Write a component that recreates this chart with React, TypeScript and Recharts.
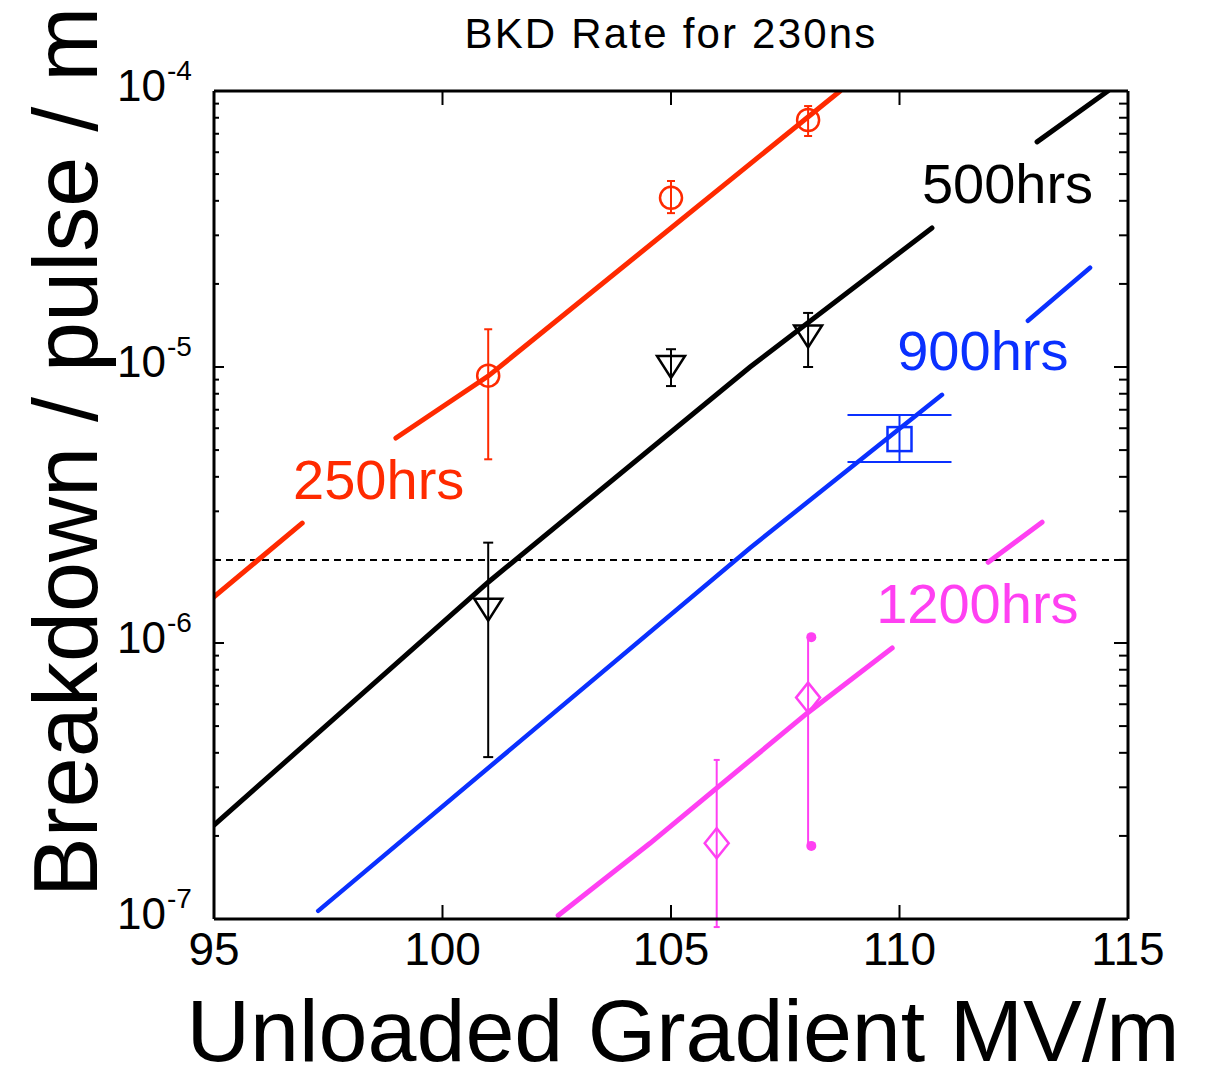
import React from 'react';
import {
  ComposedChart,
  Line,
  Scatter,
  XAxis,
  YAxis,
  ErrorBar,
  ReferenceLine,
  ReferenceDot,
} from 'recharts';

const FONT = '"Liberation Sans", Arial, Helvetica, sans-serif';

const RED = '#ff2a00';
const BLACK = '#000000';
const BLUE = '#0a30ff';
const MAGENTA = '#ff40f2';

// axes
const xTicks = [95, 100, 105, 110, 115];
const yDecades = [1e-7, 1e-6, 1e-5, 1e-4];
const yMinorSteps = [2, 3, 4, 5, 6, 7, 8, 9];
const threshold = 2e-6;

// fit lines, null = break where the label sits
const fit250X = [95, 96.93, 97.9, 98.98, 101.0, 108.7];
const fit250Y = [1.47e-6, 2.72e-6, null, 5.53e-6, 9.27e-6, 1.0e-4];

const fit500X = [95, 101.0, 106.73, 110.71, 111.9, 113.01, 114.56];
const fit500Y = [2.19e-7, 1.66e-6, 1.0e-5, 3.19e-5, null, 6.54e-5, 1.0e-4];

const fit900X = [97.28, 106.73, 110.93, 111.9, 112.81, 114.17];
const fit900Y = [1.07e-7, 2.21e-6, 7.93e-6, null, 1.47e-5, 2.29e-5];

const fit1200X = [102.53, 104.54, 107.98, 109.84, 110.9, 111.94, 113.12];
const fit1200Y = [1.03e-7, 1.88e-7, 5.57e-7, 9.59e-7, null, 1.96e-6, 2.74e-6];

// measured points with lower / upper error bounds
const pts250X = [101, 105, 108];
const pts250Y = [9.3e-6, 4.1e-5, 7.85e-5];
const pts250Lo = [4.63e-6, 3.61e-5, 6.87e-5];
const pts250Hi = [1.37e-5, 4.72e-5, 8.82e-5];

const pts500X = [101, 105, 108];
const pts500Y = [1.32e-6, 1.0e-5, 1.29e-5];
const pts500Lo = [3.86e-7, 8.53e-6, 1.0e-5];
const pts500Hi = [2.31e-6, 1.16e-5, 1.57e-5];

const pts900X = [110];
const pts900Y = [5.48e-6];
const pts900Lo = [4.53e-6];
const pts900Hi = [6.7e-6];

const pts1200aX = [106];
const pts1200aY = [1.88e-7];
const pts1200aLo = [9.35e-8];
const pts1200aHi = [3.77e-7];

const pts1200bX = [108];
const pts1200bY = [6.34e-7];
const pts1200bLo = [1.84e-7];
const pts1200bHi = [1.05e-6];
const caps1200bX = [108.07, 108.07];
const caps1200bY = [1.05e-6, 1.84e-7];

// curve labels (left end of baseline)
const labelText = ['250hrs', '500hrs', '900hrs', '1200hrs'];
const labelColor = [RED, BLACK, BLUE, MAGENTA];
const labelX = [96.73, 110.49, 109.95, 109.49];
const labelY = [3.33e-6, 3.93e-5, 9.75e-6, 1.18e-6];

const toLine = (xs: number[], ys: (number | null)[]) => xs.map((x, i) => ({ x, y: ys[i] }));
const toPoints = (xs: number[], ys: number[], lo: number[], hi: number[]) =>
  xs.map((x, i) => ({ x, y: ys[i], err: [ys[i] - lo[i], hi[i] - ys[i]] }));

const yTicks: number[] = [];
yDecades.forEach((d, i) => {
  yTicks.push(d);
  if (i < yDecades.length - 1) yMinorSteps.forEach((m) => yTicks.push(d * m));
});

const isDecade = (v: number) => {
  const l = Math.log10(v);
  return Math.abs(l - Math.round(l)) < 1e-6;
};

const BottomTick = (props: any) => {
  const { x, y, payload } = props;
  return (
    <g>
      <line x1={x} x2={x} y1={y} y2={y - 14} stroke="#000" strokeWidth={2} />
      <text x={x} y={y + 46} textAnchor="middle" fontSize={46} fontFamily={FONT} fill="#000">
        {payload.value}
      </text>
    </g>
  );
};

const TopTick = (props: any) => {
  const { x, y } = props;
  return <line x1={x} x2={x} y1={y} y2={y + 14} stroke="#000" strokeWidth={2} />;
};

const LeftTick = (props: any) => {
  const { x, y, payload } = props;
  const major = isDecade(payload.value);
  if (!major) return <line x1={x} x2={x + 5} y1={y} y2={y} stroke="#000" strokeWidth={2} />;
  const exp = Math.round(Math.log10(payload.value));
  return (
    <g>
      <line x1={x} x2={x + 10} y1={y} y2={y} stroke="#000" strokeWidth={2} />
      <text x={x - 48} y={y + 10} textAnchor="end" fontSize={44} fontFamily={FONT} fill="#000">
        10
      </text>
      <text x={x - 47} y={y - 11} textAnchor="start" fontSize={28} fontFamily={FONT} fill="#000">
        {exp}
      </text>
    </g>
  );
};

const RightTick = (props: any) => {
  const { x, y, payload } = props;
  const len = isDecade(payload.value) ? 14 : 9;
  return <line x1={x} x2={x - len} y1={y} y2={y} stroke="#000" strokeWidth={2} />;
};

const circleShape = (p: any) => (
  <circle cx={p.cx} cy={p.cy} r={11} fill="none" stroke={RED} strokeWidth={2.5} />
);
const triangleShape = (p: any) => (
  <polygon
    points={`${p.cx - 14},${p.cy - 11} ${p.cx + 14},${p.cy - 11} ${p.cx},${p.cy + 11}`}
    fill="none"
    stroke={BLACK}
    strokeWidth={2.5}
  />
);
const squareShape = (p: any) => (
  <rect x={p.cx - 12} y={p.cy - 12} width={24} height={24} fill="none" stroke={BLUE} strokeWidth={2.5} />
);
const diamondShape = (p: any) => (
  <polygon
    points={`${p.cx},${p.cy - 15} ${p.cx + 12},${p.cy} ${p.cx},${p.cy + 15} ${p.cx - 12},${p.cy}`}
    fill="none"
    stroke={MAGENTA}
    strokeWidth={2.5}
  />
);
const capDotShape = (p: any) => <circle cx={p.cx} cy={p.cy} r={5} fill={MAGENTA} />;

const curveLabel = (text: string, color: string) => (props: any) => {
  const vb = props.viewBox || {};
  return (
    <text x={vb.x} y={vb.y} fill={color} fontSize={56} fontFamily={FONT}>
      {text}
    </text>
  );
};

const fits = [
  { data: toLine(fit250X, fit250Y), color: RED, width: 5 },
  { data: toLine(fit500X, fit500Y), color: BLACK, width: 5 },
  { data: toLine(fit900X, fit900Y), color: BLUE, width: 4.5 },
  { data: toLine(fit1200X, fit1200Y), color: MAGENTA, width: 5 },
];

export default function App() {
  return (
    <div style={{ position: 'absolute', left: 0, top: 0, width: 1206, height: 1080, background: '#fff' }}>
      <ComposedChart width={1206} height={1080} margin={{ top: 0, right: 0, bottom: 0, left: 0 }}>
        <XAxis
          xAxisId={0}
          dataKey="x"
          type="number"
          domain={[95, 115]}
          ticks={xTicks}
          interval={0}
          allowDataOverflow
          height={161}
          tickSize={0}
          tickMargin={0}
          tickLine={false}
          axisLine={{ stroke: '#000', strokeWidth: 3 }}
          tick={<BottomTick />}
        />
        <XAxis
          xAxisId="top"
          orientation="top"
          dataKey="x"
          type="number"
          domain={[95, 115]}
          ticks={xTicks}
          interval={0}
          allowDataOverflow
          height={91}
          tickSize={0}
          tickMargin={0}
          tickLine={false}
          axisLine={{ stroke: '#000', strokeWidth: 3 }}
          tick={<TopTick />}
        />
        <YAxis
          yAxisId={0}
          dataKey="y"
          type="number"
          scale="log"
          domain={[1e-7, 1e-4]}
          ticks={yTicks}
          interval={0}
          allowDataOverflow
          width={214}
          tickSize={0}
          tickMargin={0}
          tickLine={false}
          axisLine={{ stroke: '#000', strokeWidth: 3 }}
          tick={<LeftTick />}
        />
        <YAxis
          yAxisId="right"
          orientation="right"
          dataKey="y"
          type="number"
          scale="log"
          domain={[1e-7, 1e-4]}
          ticks={yTicks}
          interval={0}
          allowDataOverflow
          width={78}
          tickSize={0}
          tickMargin={0}
          tickLine={false}
          axisLine={{ stroke: '#000', strokeWidth: 3 }}
          tick={<RightTick />}
        />

        <ReferenceLine y={threshold} stroke="#000" strokeWidth={2} strokeDasharray="7 5" />

        {fits.map((f, i) => (
          <Line
            key={i}
            data={f.data}
            dataKey="y"
            stroke={f.color}
            strokeWidth={f.width}
            strokeLinecap="round"
            dot={false}
            activeDot={false}
            connectNulls={false}
            isAnimationActive={false}
          />
        ))}

        <Scatter data={toPoints(pts250X, pts250Y, pts250Lo, pts250Hi)} dataKey="y" shape={circleShape} isAnimationActive={false}>
          <ErrorBar dataKey="err" direction="y" width={4} stroke={RED} strokeWidth={2} />
        </Scatter>
        <Scatter data={toPoints(pts500X, pts500Y, pts500Lo, pts500Hi)} dataKey="y" shape={triangleShape} isAnimationActive={false}>
          <ErrorBar dataKey="err" direction="y" width={5} stroke={BLACK} strokeWidth={2} />
        </Scatter>
        <Scatter data={toPoints(pts900X, pts900Y, pts900Lo, pts900Hi)} dataKey="y" shape={squareShape} isAnimationActive={false}>
          <ErrorBar dataKey="err" direction="y" width={52} stroke={BLUE} strokeWidth={2} />
        </Scatter>
        <Scatter data={toPoints(pts1200aX, pts1200aY, pts1200aLo, pts1200aHi)} dataKey="y" shape={diamondShape} isAnimationActive={false}>
          <ErrorBar dataKey="err" direction="y" width={3} stroke={MAGENTA} strokeWidth={2} />
        </Scatter>
        <Scatter data={toPoints(pts1200bX, pts1200bY, pts1200bLo, pts1200bHi)} dataKey="y" shape={diamondShape} isAnimationActive={false}>
          <ErrorBar dataKey="err" direction="y" width={0} stroke={MAGENTA} strokeWidth={2} />
        </Scatter>
        <Scatter data={toLine(caps1200bX, caps1200bY)} dataKey="y" shape={capDotShape} isAnimationActive={false} />

        {labelText.map((t, i) => (
          <ReferenceDot
            key={t}
            x={labelX[i]}
            y={labelY[i]}
            r={0}
            fill="none"
            stroke="none"
            isFront
            label={{ content: curveLabel(t, labelColor[i]) }}
          />
        ))}
      </ComposedChart>

      <svg
        width={1206}
        height={1080}
        style={{ position: 'absolute', left: 0, top: 0, pointerEvents: 'none' }}
      >
        <text x={671} y={48} textAnchor="middle" fontSize={42} fontFamily={FONT} letterSpacing={2.2} fill="#000">
          BKD Rate for 230ns
        </text>
        <text
          transform="translate(97,452) rotate(-90)"
          textAnchor="middle"
          fontSize={90}
          fontFamily={FONT}
          fill="#000"
        >
          Breakdown / pulse / m
        </text>
        <text x={683} y={1061} textAnchor="middle" fontSize={88} fontFamily={FONT} fill="#000">
          Unloaded Gradient MV/m
        </text>
      </svg>
    </div>
  );
}
